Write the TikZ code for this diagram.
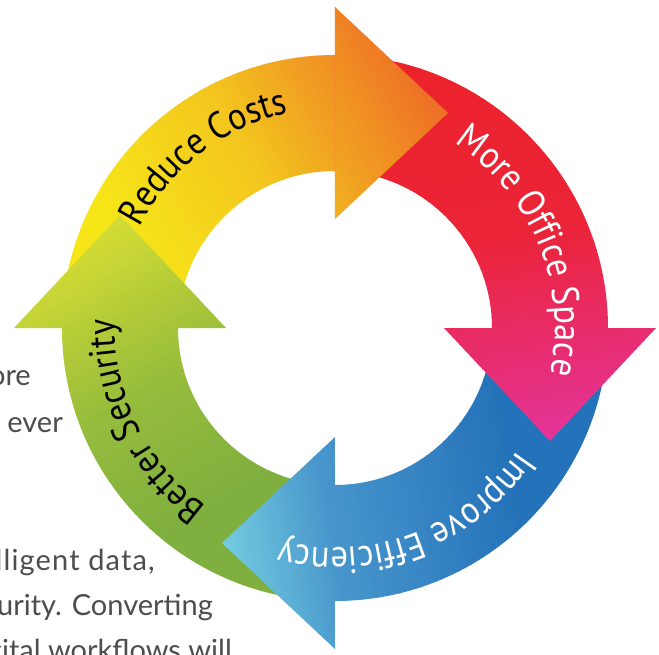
\documentclass[tikz,border=0pt]{standalone}
\usepackage{fontspec}
\usetikzlibrary{decorations.text,calc}
\newfontfamily\arcfont[FakeStretch=0.9]{PT Sans}
\newfontfamily\parafont{Lato}
\newfontfamily\paraspaced[LetterSpace=4]{Lato}
\definecolor{paragray}{HTML}{4D4D4D}
\definecolor{ylwA}{HTML}{F6E618}
\definecolor{ylwM}{HTML}{F3C61E}
\definecolor{ylwB}{HTML}{EE6E26}
\definecolor{redA}{HTML}{EC2229}
\definecolor{redM}{HTML}{EB2438}
\definecolor{redB}{HTML}{E4349A}
\definecolor{bluA}{HTML}{74CDE0}
\definecolor{bluM}{HTML}{4896CC}
\definecolor{bluB}{HTML}{2472B9}
\definecolor{grnA}{HTML}{7EAF3F}
\definecolor{grnM}{HTML}{96BC3C}
\definecolor{grnB}{HTML}{D4DC34}
\tikzset{
  paratext/.style={font=\parafont\fontsize{29}{29}\selectfont, text=paragray, anchor=base east, inner sep=0pt},
  paraspacedtext/.style={paratext, font=\paraspaced\fontsize{29}{29}\selectfont},
}
% linear gradient made of stripes: #1 origin, #2 axis angle, #3 middle pos, #4 end pos, #5 A, #6 M, #7 B
\newcommand{\gradfill}[7]{%
\begin{scope}[shift={#1}, rotate=#2]
  \fill[#5] (-800,-800) rectangle (0.6,800);
  \foreach \gi in {0,...,29}{
    \pgfmathsetmacro{\gxa}{#3*\gi/30}
    \pgfmathsetmacro{\gxb}{#3*(\gi+1)/30+0.6}
    \pgfmathsetmacro{\gpc}{100-100*(\gi+0.5)/30}
    \fill[#5!\gpc!#6] (\gxa,-800) rectangle (\gxb,800);
  }
  \foreach \gi in {0,...,29}{
    \pgfmathsetmacro{\gxa}{#3+(#4-#3)*\gi/30}
    \pgfmathsetmacro{\gxb}{#3+(#4-#3)*(\gi+1)/30+0.6}
    \pgfmathsetmacro{\gpc}{100-100*(\gi+0.5)/30}
    \fill[#6!\gpc!#7] (\gxa,-800) rectangle (\gxb,800);
  }
  \fill[#7] (#4,-800) rectangle (1600,800);
\end{scope}}
\newcommand{\ylwfill}{\gradfill{(-121.2,-70)}{30}{151}{345}{ylwA}{ylwM}{ylwB}}
\newcommand{\redfill}{\gradfill{(-46.8,265)}{-80}{209}{418}{redA}{redM}{redB}}
\newcommand{\blufill}{\gradfill{(-146.8,-25.9)}{10}{109}{299}{bluA}{bluM}{bluB}}
\newcommand{\grnfill}{\gradfill{(50,-86.6)}{120}{140}{301}{grnA}{grnM}{grnB}}
\newcommand{\arclabel}[3]{% center angle, color, text
  \path[decorate, decoration={text along path, text align=center,
    text={|\arcfont\fontsize{38}{38}\selectfont\color{#2}|#3}}]
    (#1+70:220) arc[start angle=#1+70, end angle=#1-70, radius=220];
}
% band from angle #1 clockwise to #1-90
\newcommand{\bandpath}[1]{(#1:157) arc[start angle=#1, end angle=#1-90, radius=157] -- (#1-90:273)
  arc[start angle=#1-90, end angle=#1, radius=273] -- cycle}
% head whose base lies on the ray at angle #1
\newcommand{\headpath}[1]{(#1:109) -- (#1:321) -- ($(#1:215)+(#1-90:113)$) -- cycle}
\begin{document}
\begin{tikzpicture}[x=1pt,y=1pt]
\useasboundingbox (-335,-326) rectangle (324,328);
\clip (-335,-326) rectangle (324,328);
\fill[white] (-335,-326) rectangle (324,328);
% background paragraph fragments
\node[paratext] (p1) at (-304,-57) {ore};
\node[paratext] (p2) at (-272,-104) {ever};
\node[paraspacedtext] (p3) at (-180,-242) {lligent data,};
\node[paratext] (p4) at (-122,-287) {urity. Converting};
\node[paratext] (p5) at (-103,-332) {gital workflows will};
% bands
\begin{scope}\clip \bandpath{180}; \ylwfill \end{scope}
\begin{scope}\clip \bandpath{90};  \redfill \end{scope}
\begin{scope}\clip \bandpath{0};   \blufill \end{scope}
\begin{scope}\clip \bandpath{-90}; \grnfill \end{scope}
% heads
\begin{scope}\clip \headpath{90};  \ylwfill \end{scope}
\begin{scope}\clip \headpath{0};   \redfill \end{scope}
\begin{scope}\clip \headpath{-90}; \blufill \end{scope}
\begin{scope}\clip \headpath{180}; \grnfill \end{scope}
% labels
\arclabel{127.5}{black}{Reduce Costs}
\arclabel{22.5}{white}{More Office Space}
\arclabel{-69}{white}{Improve Efficiency}
\arclabel{-154}{black}{Better Security}
\end{tikzpicture}
\end{document}
